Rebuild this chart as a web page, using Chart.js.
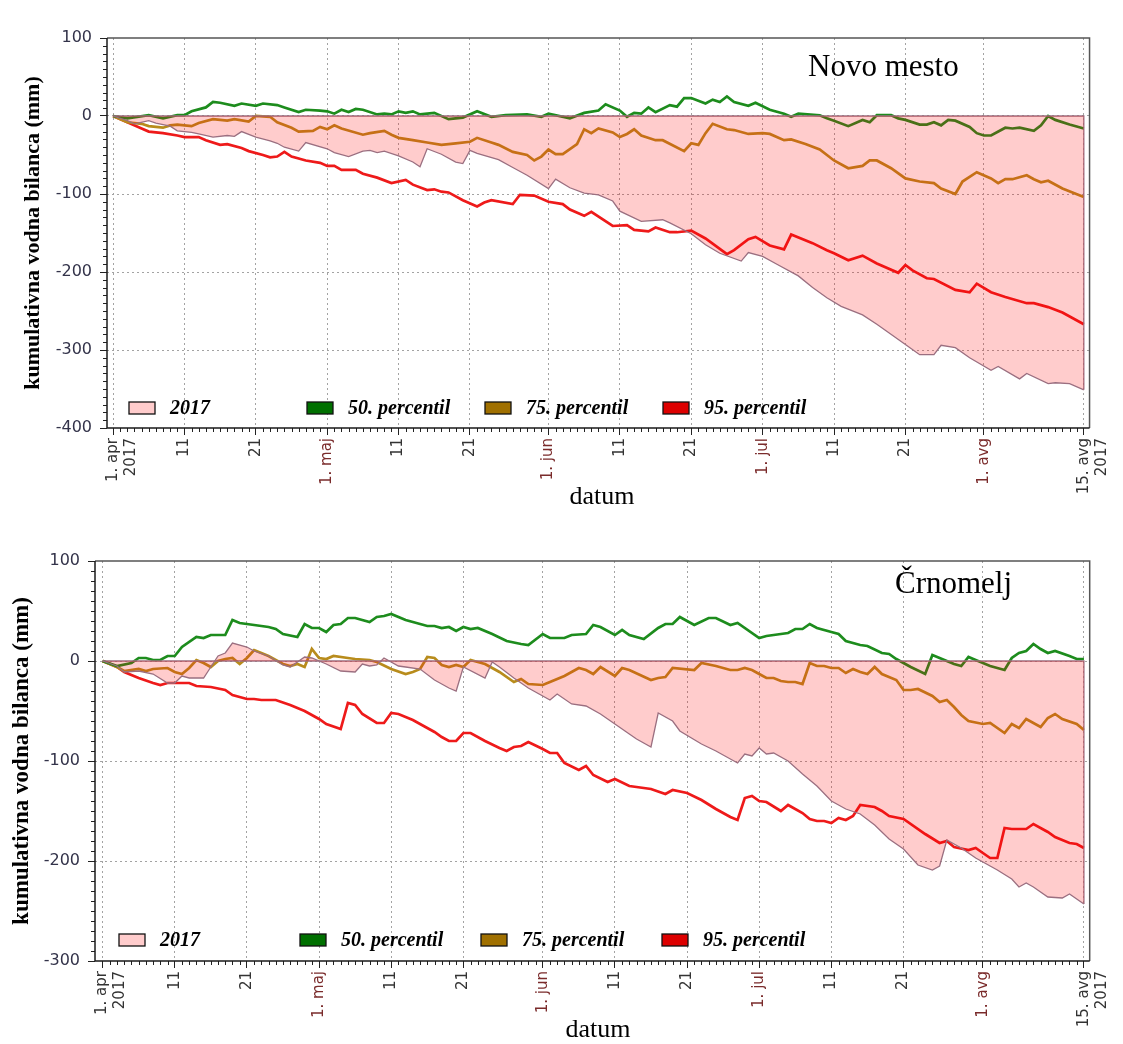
<!DOCTYPE html>
<html>
<head>
<meta charset="utf-8">
<script src="https://cdn.jsdelivr.net/npm/chart.js@4.4.1/dist/chart.umd.min.js"></script>
<style>
  body { margin: 0; background: #fff; width: 1123px; height: 1044px; overflow: hidden; }
  .panel { position: absolute; left: 0; width: 1123px; }
</style>
</head>
<body>
<div class="panel" style="top:0;height:520px"><canvas id="novomesto"></canvas></div>
<div class="panel" style="top:520px;height:524px"><canvas id="crnomelj"></canvas></div>
<script>
// day index from 1. apr 2017 (0) to 15. avg 2017 (136)
const tickDays = [0, 10, 20, 30, 40, 50, 61, 71, 81, 91, 101, 111, 122, 136];
const tickLabels = [['1. apr', '2017'], '11', '21', '1. maj', '11', '21', '1. jun', '11', '21', '1. jul', '11', '21', '1. avg', ['15. avg', '2017']];
const monthDays = [30, 61, 91, 122];

const legendLabels = ['2017', '50. percentil', '75. percentil', '95. percentil'];
const legendColors = ['#ffcccc', '#007000', '#a07000', '#dd0000'];
const lineColors = ['#9b6f80', '#1d8c1d', '#b88c1c', '#ee1a1a'];

// Novo mesto  [day, mm]
const nm2017 = [[0,0],[2,-6],[3,-10],[5,-6],[6,-9],[8,-13],[9,-19],[11,-21],[12,-23],[14,-27],[16,-25],[17,-26],[18,-20],[20,-27],[22,-32],[23,-35],[24,-40],[26,-45],[27,-34],[30,-42],[31,-47],[33,-52],[35,-45],[36,-44],[37,-47],[38,-45],[40,-51],[42,-59],[43,-65],[44,-42],[46,-49],[48,-59],[49,-61],[50,-44],[51,-48],[54,-56],[56,-66],[58,-76],[61,-93],[62,-81],[64,-92],[66,-99],[68,-101],[70,-109],[71,-122],[74,-135],[77,-133],[78,-137],[81,-151],[83,-165],[85,-176],[88,-186],[89,-175],[91,-180],[93,-190],[96,-205],[98,-220],[100,-233],[102,-244],[105,-255],[107,-267],[111,-293],[113,-306],[115,-306],[116,-294],[118,-297],[120,-310],[123,-326],[124,-321],[127,-337],[128,-330],[131,-343],[132,-342],[134,-343],[136,-351]];
const nm50 = [[0,0],[2,-3],[5,1],[7,-3],[9,1],[10,1],[11,6],[13,11],[14,18],[15,17],[17,13],[18,16],[20,13],[21,16],[23,14],[24,11],[26,5],[27,8],[29,7],[30,6],[31,3],[32,8],[33,5],[34,9],[35,8],[37,2],[38,3],[39,2],[40,6],[41,4],[42,6],[43,2],[45,4],[47,-4],[49,-2],[51,6],[53,-1],[55,1],[58,2],[60,-1],[61,3],[64,-3],[66,4],[68,7],[69,15],[71,7],[72,-1],[73,4],[74,3],[75,11],[76,5],[78,14],[79,12],[80,23],[81,23],[83,16],[84,21],[85,18],[86,25],[87,18],[89,13],[90,17],[92,8],[94,3],[95,-1],[96,3],[99,1],[100,-3],[101,-6],[103,-13],[105,-5],[106,-8],[107,1],[109,1],[110,-3],[111,-5],[113,-11],[114,-11],[115,-8],[116,-12],[117,-5],[118,-6],[120,-14],[121,-22],[122,-25],[123,-25],[125,-15],[126,-16],[127,-15],[129,-19],[130,-12],[131,0],[132,-5],[134,-11],[136,-16]];
const nm75 = [[0,0],[2,-8],[4,-10],[5,-13],[7,-15],[8,-12],[9,-11],[11,-13],[12,-9],[14,-4],[16,-6],[17,-4],[19,-7],[20,0],[22,-1],[23,-8],[25,-15],[26,-20],[28,-19],[29,-14],[30,-17],[31,-12],[32,-16],[35,-24],[36,-22],[38,-19],[39,-24],[40,-28],[42,-31],[44,-34],[46,-37],[48,-35],[50,-33],[51,-28],[53,-34],[54,-37],[56,-46],[58,-50],[59,-57],[60,-52],[61,-43],[62,-49],[63,-49],[65,-36],[66,-17],[67,-22],[68,-16],[70,-21],[71,-27],[72,-23],[73,-17],[74,-25],[76,-31],[77,-31],[80,-45],[81,-35],[82,-37],[83,-22],[84,-10],[86,-17],[87,-18],[89,-23],[91,-22],[92,-23],[94,-31],[95,-30],[97,-36],[99,-43],[101,-57],[103,-67],[105,-64],[106,-57],[107,-57],[109,-67],[111,-80],[113,-84],[115,-86],[116,-93],[118,-100],[119,-84],[121,-72],[123,-80],[124,-86],[125,-81],[126,-81],[128,-76],[129,-81],[130,-85],[131,-83],[133,-93],[136,-104]];
const nm95 = [[0,0],[2,-8],[4,-16],[5,-20],[7,-22],[9,-25],[10,-27],[12,-27],[13,-31],[15,-37],[16,-36],[18,-41],[19,-45],[21,-50],[22,-53],[23,-52],[24,-46],[25,-52],[27,-57],[29,-60],[30,-64],[31,-64],[32,-69],[34,-69],[35,-74],[37,-79],[39,-86],[41,-82],[42,-88],[44,-95],[45,-94],[46,-97],[47,-98],[49,-108],[51,-116],[52,-111],[53,-108],[56,-113],[57,-101],[59,-102],[61,-110],[63,-113],[64,-120],[66,-128],[67,-123],[70,-141],[72,-140],[73,-146],[75,-148],[76,-143],[78,-149],[79,-149],[81,-147],[83,-157],[86,-177],[87,-172],[89,-158],[90,-155],[92,-166],[94,-171],[95,-152],[98,-163],[100,-172],[101,-176],[103,-185],[105,-179],[107,-189],[110,-201],[111,-191],[112,-198],[114,-208],[115,-209],[118,-223],[120,-226],[121,-215],[123,-226],[125,-232],[128,-240],[129,-240],[131,-245],[133,-252],[136,-267]];

// Crnomelj  [day, mm]
const cr2017 = [[0,0],[2,-5],[3,-11],[5,-10],[7,-13],[9,-22],[10,-22],[11,-15],[12,-17],[14,-17],[15,-6],[16,5],[17,8],[18,18],[20,14],[21,10],[23,5],[25,-4],[26,-6],[28,4],[29,3],[31,-3],[33,-10],[35,-11],[36,-3],[37,-5],[38,-4],[39,3],[41,-5],[42,-6],[44,-8],[46,-19],[48,-27],[49,-30],[50,-6],[53,-17],[54,-1],[55,-6],[57,-17],[59,-27],[62,-39],[63,-33],[65,-43],[67,-45],[69,-53],[71,-63],[73,-73],[74,-78],[76,-86],[77,-52],[79,-60],[80,-70],[83,-83],[85,-90],[88,-102],[89,-93],[90,-95],[91,-87],[92,-93],[93,-92],[95,-100],[97,-113],[99,-125],[101,-140],[103,-148],[105,-153],[107,-164],[109,-178],[111,-188],[113,-204],[115,-209],[116,-205],[117,-179],[119,-187],[121,-197],[124,-209],[126,-218],[127,-226],[128,-222],[129,-226],[131,-236],[133,-237],[134,-233],[136,-243]];
const cr50 = [[0,0],[2,-5],[4,-2],[5,3],[6,3],[7,1],[8,1],[9,5],[10,5],[11,14],[13,24],[14,23],[15,26],[17,26],[18,41],[19,38],[21,36],[23,34],[24,32],[25,27],[27,24],[28,37],[29,33],[30,33],[31,29],[32,36],[33,37],[34,43],[35,43],[37,39],[38,44],[39,45],[40,47],[42,41],[43,39],[45,35],[46,35],[47,33],[48,34],[49,30],[50,34],[51,32],[52,33],[54,27],[56,20],[58,17],[59,16],[61,27],[62,23],[64,23],[65,26],[67,27],[68,36],[69,34],[71,26],[72,31],[73,26],[75,22],[77,33],[78,37],[79,37],[80,44],[82,36],[84,43],[85,43],[87,36],[88,38],[91,23],[92,25],[93,26],[94,27],[95,28],[96,32],[97,32],[98,37],[99,33],[101,29],[102,27],[103,20],[105,16],[106,15],[108,8],[109,7],[110,2],[112,-6],[114,-13],[115,6],[116,3],[118,-3],[119,-5],[120,4],[121,1],[123,-5],[125,-9],[126,3],[127,8],[128,10],[129,17],[130,12],[131,8],[132,10],[134,5],[135,2],[136,2]];
const cr75 = [[0,0],[2,-6],[3,-10],[5,-8],[6,-10],[7,-8],[9,-7],[10,-11],[11,-13],[12,-7],[13,1],[14,-2],[15,-6],[16,0],[17,2],[18,3],[19,-3],[20,3],[21,11],[22,8],[23,5],[25,-3],[26,-5],[27,-3],[28,-6],[29,12],[30,3],[31,2],[32,5],[34,3],[35,2],[37,1],[38,-1],[40,-8],[42,-13],[43,-11],[44,-8],[45,4],[46,3],[47,-4],[48,-6],[49,-4],[50,-6],[51,1],[52,-1],[53,-3],[55,-11],[57,-21],[58,-18],[59,-23],[61,-24],[62,-21],[64,-15],[66,-7],[67,-9],[68,-13],[69,-6],[71,-15],[72,-7],[73,-9],[76,-19],[77,-17],[78,-16],[79,-7],[82,-9],[83,-2],[85,-5],[87,-9],[88,-9],[89,-7],[90,-9],[91,-13],[92,-17],[93,-17],[94,-20],[95,-21],[96,-21],[97,-23],[98,-2],[99,-5],[100,-5],[101,-7],[102,-7],[103,-12],[104,-8],[105,-11],[106,-13],[107,-6],[108,-13],[110,-19],[111,-29],[112,-29],[113,-28],[115,-35],[116,-41],[117,-39],[118,-46],[119,-54],[120,-60],[122,-63],[123,-62],[125,-72],[126,-63],[127,-67],[128,-58],[130,-66],[131,-57],[132,-53],[133,-58],[135,-63],[136,-69]];
const cr95 = [[0,0],[2,-6],[3,-11],[5,-17],[7,-22],[8,-24],[9,-22],[12,-22],[13,-25],[15,-26],[17,-29],[18,-34],[20,-38],[21,-38],[22,-39],[24,-39],[26,-44],[28,-50],[30,-58],[31,-63],[33,-68],[34,-42],[35,-44],[36,-53],[38,-62],[39,-62],[40,-52],[41,-53],[43,-59],[45,-67],[46,-71],[47,-76],[48,-80],[49,-80],[50,-72],[51,-72],[53,-80],[55,-87],[56,-90],[57,-86],[58,-85],[59,-81],[61,-88],[62,-92],[63,-92],[64,-102],[66,-109],[67,-105],[68,-114],[70,-121],[71,-118],[73,-125],[74,-126],[76,-128],[78,-133],[79,-129],[81,-132],[83,-139],[85,-148],[87,-156],[88,-159],[89,-137],[90,-135],[91,-140],[92,-141],[94,-150],[95,-144],[97,-152],[98,-158],[99,-160],[100,-160],[101,-162],[102,-157],[103,-159],[104,-155],[105,-144],[107,-146],[108,-150],[109,-155],[111,-158],[114,-173],[116,-182],[117,-180],[118,-186],[120,-189],[121,-187],[122,-192],[123,-197],[124,-197],[125,-167],[126,-168],[128,-168],[129,-163],[131,-171],[132,-176],[134,-182],[135,-183],[136,-187]];

const pts = a => a.map(p => ({ x: p[0], y: p[1] }));

// axis minor ticks, frame, legend and texts
const decor = {
  id: 'decor',
  afterDraw(chart, args, o) {
    const { ctx, chartArea: a, scales: { x, y } } = chart;
    ctx.save();
    ctx.strokeStyle = '#222';
    ctx.lineWidth = 1;
    ctx.beginPath();
    for (let d = 0; d <= 136; d++) {
      if (tickDays.includes(d)) continue;
      const px = Math.round(x.getPixelForValue(d)) + 0.5;
      ctx.moveTo(px, a.bottom);
      ctx.lineTo(px, a.bottom + 4);
    }
    for (let v = y.min + 10; v < y.max; v += 10) {
      if (v % 100 === 0) continue;
      const py = Math.round(y.getPixelForValue(v)) + 0.5;
      ctx.moveTo(a.left - 4, py);
      ctx.lineTo(a.left, py);
    }
    ctx.stroke();

    ctx.lineWidth = 1.5;
    ctx.strokeStyle = '#555';
    ctx.beginPath();
    ctx.moveTo(a.left, a.top); ctx.lineTo(a.right, a.top); ctx.lineTo(a.right, a.bottom);
    ctx.stroke();
    ctx.strokeStyle = '#1a1a1a';
    ctx.beginPath();
    ctx.moveTo(a.left, a.top); ctx.lineTo(a.left, a.bottom); ctx.lineTo(a.right, a.bottom);
    ctx.stroke();

    // legend
    ctx.font = 'italic bold 20px "Liberation Serif"';
    ctx.textBaseline = 'middle';
    ctx.textAlign = 'left';
    const ly = a.bottom - o.legendDy;
    legendLabels.forEach((lab, i) => {
      const lx = a.left + o.legendX + i * o.legendStep;
      ctx.fillStyle = legendColors[i];
      ctx.fillRect(lx, ly - 6, 26, 12);
      ctx.strokeStyle = '#111';
      ctx.lineWidth = 1.3;
      ctx.strokeRect(lx, ly - 6, 26, 12);
      ctx.fillStyle = '#000';
      ctx.fillText(lab, lx + 41, ly + 1);
    });

    // station name
    ctx.font = '31px "Liberation Serif"';
    ctx.fillText(o.title, o.titleX, o.titleY);

    // axis titles
    ctx.textAlign = 'center';
    ctx.font = '26px "Liberation Serif"';
    ctx.fillText('datum', o.datumX, o.datumY);
    ctx.translate(o.yTitleX, (a.top + a.bottom) / 2);
    ctx.rotate(-Math.PI / 2);
    ctx.font = 'bold ' + o.yTitleSize + 'px "Liberation Serif"';
    ctx.fillText('kumulativna vodna bilanca (mm)', 0, 0);
    ctx.restore();
  }
};

function makeChart(id, s) {
  const first = s.y2017[0];
  const last = s.y2017[s.y2017.length - 1];
  const edge = [[first[0], 0], [last[0], 0], last];
  const yTicks = [];
  for (let v = s.yMin; v <= s.yMax; v += 100) yTicks.push(v);

  return new Chart(document.getElementById(id), {
    type: 'line',
    data: {
      datasets: [
        { data: pts(s.y2017), borderColor: lineColors[0], borderWidth: 1.3, backgroundColor: 'rgba(255,0,0,0.2)', fill: 'origin', order: 0 },
        { data: pts(edge), borderColor: lineColors[0], borderWidth: 1.3, fill: false, order: 1 },
        { data: pts(s.p50), borderColor: lineColors[1], borderWidth: 2.7, fill: false, order: 2 },
        { data: pts(s.p75), borderColor: lineColors[2], borderWidth: 2.7, fill: false, order: 3 },
        { data: pts(s.p95), borderColor: lineColors[3], borderWidth: 2.7, fill: false, order: 4 }
      ]
    },
    options: {
      responsive: true,
      maintainAspectRatio: false,
      animation: false,
      layout: { padding: { top: s.top, right: s.right, left: 0, bottom: 0 } },
      elements: { point: { radius: 0 }, line: { tension: 0 } },
      plugins: { legend: { display: false }, tooltip: { enabled: false }, decor: s.deco },
      scales: {
        x: {
          type: 'linear',
          min: s.xMin,
          max: 136.8,
          afterBuildTicks: sc => { sc.ticks = tickDays.map(v => ({ value: v })); },
          afterFit: sc => { sc.height = s.axisH; },
          ticks: {
            autoSkip: false,
            minRotation: 90,
            maxRotation: 90,
            padding: 3,
            font: { family: 'DejaVu Sans', size: 15 },
            color: c => monthDays.includes(c.tick.value) ? '#7a2b2b' : '#333',
            callback: v => tickLabels[tickDays.indexOf(v)]
          },
          grid: { color: '#a3a3a3', lineWidth: 1, tickLength: 7, tickColor: '#222' },
          border: { display: false, dash: [2, 3] }
        },
        y: {
          min: s.yMin,
          max: s.yMax,
          afterBuildTicks: sc => { sc.ticks = yTicks.map(v => ({ value: v })); },
          afterFit: sc => { sc.width = s.left; },
          ticks: { padding: 8, font: { family: 'DejaVu Sans', size: 16 }, color: '#33334a' },
          grid: {
            color: c => (c.tick && (c.tick.value === s.yMin || c.tick.value === s.yMax)) ? 'rgba(0,0,0,0)' : '#a3a3a3',
            lineWidth: 1, tickLength: 7, tickColor: '#222'
          },
          border: { display: false, dash: [2, 3] }
        }
      }
    },
    plugins: [decor]
  });
}

makeChart('novomesto', {
  y2017: nm2017, p50: nm50, p75: nm75, p95: nm95,
  yMin: -400, yMax: 100, xMin: -0.85,
  top: 38, right: 28, left: 107, axisH: 92,
  deco: { title: 'Novo mesto', titleX: 808, titleY: 68, datumX: 602, datumY: 497,
          yTitleX: 33, yTitleSize: 22, legendX: 22, legendDy: 20, legendStep: 178 }
});

makeChart('crnomelj', {
  y2017: cr2017, p50: cr50, p75: cr75, p95: cr95,
  yMin: -300, yMax: 100, xMin: -1.05,
  top: 41, right: 13, left: 95, axisH: 83,
  deco: { title: 'Črnomelj', titleX: 895, titleY: 65, datumX: 598, datumY: 510,
          yTitleX: 22, yTitleSize: 23, legendX: 24, legendDy: 21, legendStep: 181 }
});
</script>
</body>
</html>
